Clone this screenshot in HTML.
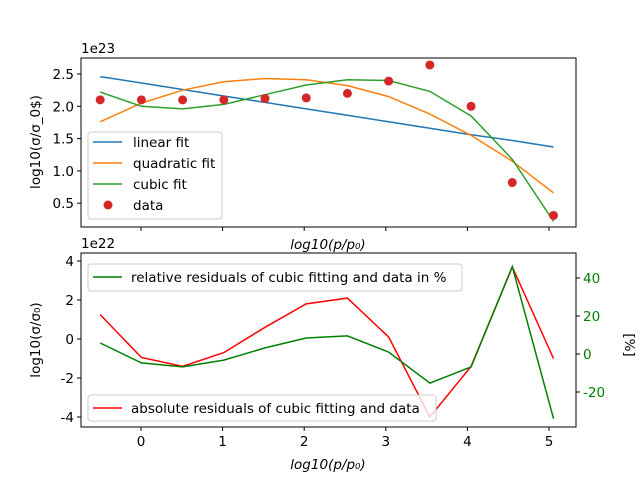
<!DOCTYPE html>
<html><head><meta charset="utf-8"><style>
body{margin:0;background:#fff}
svg{font-family:"DejaVu Sans","Liberation Sans",sans-serif;font-size:13.5px}
</style></head><body>
<svg id="c" width="640" height="480" xmlns="http://www.w3.org/2000/svg"></svg>
<script>
const xs=[-0.5,0.005,0.51,1.015,1.52,2.025,2.53,3.035,3.54,4.045,4.55,5.055];
const dataVals=[2.1,2.1,2.1,2.1,2.12,2.13,2.2,2.39,2.64,2.0,0.82,0.31];
const linVals=[2.46,2.36,2.26,2.16,2.06,1.96,1.86,1.76,1.66,1.56,1.47,1.37];
const quadVals=[1.76,2.05,2.25,2.38,2.43,2.41,2.32,2.15,1.88,1.55,1.15,0.66];
const cubVals=[2.22,2.0,1.96,2.03,2.18,2.33,2.41,2.40,2.23,1.85,1.18,0.22];
const absRes=[1.25,-0.95,-1.4,-0.7,0.6,1.8,2.1,0.1,-4.0,-1.4,3.7,-1.0];
const relRes=[5.8,-4.7,-6.8,-3.2,3.2,8.4,9.5,1,-15.3,-6.8,46,-34];
const xTicks=[0,1,2,3,4,5];
const topYTicks=[0.5,1.0,1.5,2.0,2.5];
const botYTicks=[-4,-2,0,2,4];
const relTicks=[-20,0,20,40];
const svg=document.getElementById('c');const NS='http://www.w3.org/2000/svg';
function el(t,a,txt){const e=document.createElementNS(NS,t);for(const k in a)e.setAttribute(k,a[k]);if(txt!==undefined)e.textContent=txt;svg.appendChild(e);return e;}
const L=81,R=576;
const X=v=>141+v*81.6;
const YT=v=>235.5-v*64.6;
const YB=v=>339-v*19.5;
const YR=v=>354-v*1.9;
function line(vals,Y,col,name){const p=vals.map((v,i)=>X(xs[i]).toFixed(1)+','+Y(v).toFixed(1)).join(' ');
 const e=el('polyline',{points:p,fill:'none',stroke:col,'stroke-width':1.5});
 }
// top axes
let f=el('rect',{x:L,y:58,width:R-L,height:169,fill:'none',stroke:'#000','stroke-width':1});

xTicks.forEach(t=>{el('line',{x1:X(t),x2:X(t),y1:227,y2:231,stroke:'#000'});});
topYTicks.forEach(t=>{el('line',{x1:L-4,x2:L,y1:YT(t),y2:YT(t),stroke:'#000'});
 const e=el('text',{x:L-7,y:YT(t)+5,'text-anchor':'end'},t.toFixed(1));});
el('text',{x:81,y:53},'1e23');
let t=el('text',{x:40,y:142,'text-anchor':'middle',transform:'rotate(-90 40 142)'},'log10(σ/σ_0$)');
t=el('text',{x:328,y:249,'text-anchor':'middle','font-style':'italic'},'log10(p/p₀)');
line(linVals,YT,'#1f77b4','linear-fit-line');
line(quadVals,YT,'#ff7f0e','quadratic-fit-line');
line(cubVals,YT,'#2ca02c','cubic-fit-line');
dataVals.forEach((v,i)=>{const c=el('circle',{cx:X(xs[i]),cy:YT(v),r:4.5,fill:'#d62728'});});
// legend top
let g=el('rect',{x:88,y:132,width:134,height:87,fill:'#fff',stroke:'#ccc',rx:3,'fill-opacity':0.8});
[['linear fit','#1f77b4'],['quadratic fit','#ff7f0e'],['cubic fit','#2ca02c']].forEach((d,i)=>{const y=142+i*21;
 el('line',{x1:93,x2:122,y1:y,y2:y,stroke:d[1],'stroke-width':1.5});
 const e=el('text',{x:133,y:y+5},d[0]);});
el('circle',{cx:108,cy:205,r:4.5,fill:'#d62728'});
t=el('text',{x:133,y:210},'data');
// bottom axes
f=el('rect',{x:L,y:253,width:R-L,height:174,fill:'none',stroke:'#000'});
xTicks.forEach(v=>{el('line',{x1:X(v),x2:X(v),y1:427,y2:431,stroke:'#000'});
 const e=el('text',{x:X(v),y:446,'text-anchor':'middle'},String(v));});
botYTicks.forEach(v=>{el('line',{x1:L-4,x2:L,y1:YB(v),y2:YB(v),stroke:'#000'});
 const e=el('text',{x:L-7,y:YB(v)+5,'text-anchor':'end'},String(v));});
relTicks.forEach(v=>{el('line',{x1:R,x2:R+4,y1:YR(v),y2:YR(v),stroke:'#000'});
 const e=el('text',{x:R+7,y:YR(v)+5,fill:'green'},String(v));});
el('text',{x:81,y:248},'1e22');
t=el('text',{x:40,y:340,'text-anchor':'middle',transform:'rotate(-90 40 340)'},'log10(σ/σ₀)');
t=el('text',{x:625,y:345,'text-anchor':'middle',transform:'rotate(90 625 345)'},'[%]');
t=el('text',{x:328,y:469,'text-anchor':'middle','font-style':'italic'},'log10(p/p₀)');
line(absRes,YB,'red','absolute-residuals-line');
line(relRes,YR,'green','relative-residuals-line');
g=el('rect',{x:88,y:264,width:374,height:27,fill:'#fff',stroke:'#ccc',rx:3,'fill-opacity':0.8});
el('line',{x1:93,x2:122,y1:277,y2:277,stroke:'green','stroke-width':1.5});
t=el('text',{x:131,y:282},'relative residuals of cubic fitting and data in %');
g=el('rect',{x:88,y:395,width:348,height:26,fill:'#fff',stroke:'#ccc',rx:3,'fill-opacity':0.8});
el('line',{x1:93,x2:122,y1:408,y2:408,stroke:'red','stroke-width':1.5});
t=el('text',{x:131,y:413},'absolute residuals of cubic fitting and data');
</script>
</body></html>
